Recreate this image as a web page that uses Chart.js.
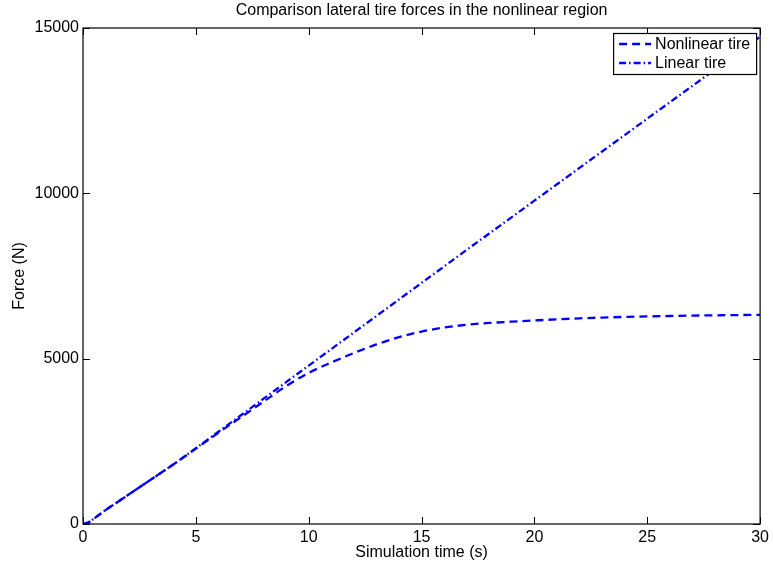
<!DOCTYPE html>
<html>
<head>
<meta charset="utf-8">
<script src="https://cdn.jsdelivr.net/npm/chart.js@4.4.1/dist/chart.umd.min.js"></script>
<style>
  html, body { margin: 0; padding: 0; background: #ffffff; }
  #wrap { width: 773px; height: 571px; }
</style>
</head>
<body>
<div id="wrap"><canvas id="c" width="773" height="571"></canvas></div>
<script>
// ---- data ----
const chartTitle = "Comparison lateral tire forces in the nonlinear region";
const xAxisTitle = "Simulation time (s)";
const yAxisTitle = "Force (N)";
const seriesNames = ["Nonlinear tire", "Linear tire"];

const timeS = [0, 0.25, 0.5, 1, 2, 3, 4, 5, 6, 7, 8, 9, 10, 11, 12, 13, 14, 15, 16, 17, 18, 19, 20, 21, 22, 23, 24, 25, 26, 27, 28, 29, 30];
const forceNonlinear = [0, 50, 170, 420, 880, 1340, 1800, 2280, 2760, 3230, 3700, 4170, 4570, 4885, 5170, 5430, 5650, 5820, 5940, 6025, 6080, 6120, 6156, 6190, 6220, 6243, 6262, 6278, 6291, 6302, 6311, 6318, 6325];
const forceLinear = [0, 50, 170, 420, 880, 1340, 1800, 2290, 2790, 3290, 3790, 4290, 4790, 5290, 5790, 6290, 6790, 7290, 7790, 8290, 8786, 9282, 9778, 10274, 10770, 11266, 11762, 12258, 12754, 13250, 13746, 14242, 14738];

const xTicks = [0, 5, 10, 15, 20, 25, 30];
const yTicks = [0, 5000, 10000, 15000];

// ---- styling ----
const FONT = "'Liberation Sans', Arial, Helvetica, sans-serif";
const FS = 16;
const BLUE = "#0000ff";
const DASHES = [[8, 5], [7, 3, 1.5, 3]];

function toPoints(xs, ys) { return xs.map((x, i) => ({ x: x, y: ys[i] })); }

const boxPlugin = {
  id: 'matlabBox',
  afterDraw(chart) {
    const ctx = chart.ctx;
    const a = chart.chartArea;
    const xs = chart.scales.x, ys = chart.scales.y;
    ctx.save();
    // title
    ctx.fillStyle = '#000';
    ctx.font = FS + 'px ' + FONT;
    ctx.textAlign = 'center';
    ctx.textBaseline = 'middle';
    ctx.fillText(chartTitle, (a.left + a.right) / 2, 11);
    // box
    ctx.strokeStyle = '#000';
    ctx.lineWidth = 1.2;
    ctx.setLineDash([]);
    ctx.strokeRect(a.left, a.top, a.right - a.left, a.bottom - a.top);
    // inward ticks
    const TL = 7;
    ctx.lineWidth = 1;
    ctx.beginPath();
    xTicks.forEach(v => {
      const px = Math.round(xs.getPixelForValue(v)) + 0.5;
      ctx.moveTo(px, a.bottom); ctx.lineTo(px, a.bottom - TL);
      ctx.moveTo(px, a.top); ctx.lineTo(px, a.top + TL);
    });
    yTicks.forEach(v => {
      const py = Math.round(ys.getPixelForValue(v)) + 0.5;
      ctx.moveTo(a.left, py); ctx.lineTo(a.left + TL, py);
      ctx.moveTo(a.right, py); ctx.lineTo(a.right - TL, py);
    });
    ctx.stroke();
    // legend
    const bw = 143, bh = 41;
    const bx = a.right - 4 - bw, by = a.top + 5;
    ctx.fillStyle = '#fff';
    ctx.fillRect(bx, by, bw, bh);
    ctx.strokeStyle = '#000';
    ctx.lineWidth = 1.2;
    ctx.strokeRect(bx + 0.5, by + 0.5, bw, bh);
    chart.data.datasets.forEach((ds, i) => {
      const cy = by + 11 + i * 19;
      ctx.strokeStyle = ds.borderColor;
      ctx.lineWidth = ds.borderWidth;
      ctx.setLineDash(ds.borderDash);
      ctx.beginPath();
      ctx.moveTo(bx + 6, cy); ctx.lineTo(bx + 38, cy);
      ctx.stroke();
      ctx.setLineDash([]);
      ctx.fillStyle = '#000';
      ctx.font = FS + 'px ' + FONT;
      ctx.textAlign = 'left';
      ctx.textBaseline = 'middle';
      ctx.fillText(ds.label, bx + 42, cy + 1);
    });
    ctx.restore();
  }
};

new Chart(document.getElementById('c'), {
  type: 'line',
  data: {
    datasets: [
      {
        label: seriesNames[0],
        data: toPoints(timeS, forceNonlinear),
        borderColor: BLUE, borderWidth: 2.3, borderDash: DASHES[0],
        pointRadius: 0, fill: false, cubicInterpolationMode: 'monotone'
      },
      {
        label: seriesNames[1],
        data: toPoints(timeS, forceLinear),
        borderColor: BLUE, borderWidth: 2.3, borderDash: DASHES[1],
        pointRadius: 0, fill: false, cubicInterpolationMode: 'monotone'
      }
    ]
  },
  options: {
    responsive: false,
    animation: false,
    devicePixelRatio: 1,
    layout: { padding: { top: 28, right: 11, left: 0, bottom: 0 } },
    plugins: { legend: { display: false }, title: { display: false }, tooltip: { enabled: false } },
    scales: {
      x: {
        type: 'linear', min: 0, max: 30,
        afterFit: s => { s.height = 47; },
        afterBuildTicks: s => { s.ticks = xTicks.map(v => ({ value: v })); },
        grid: { display: false, drawTicks: false },
        border: { display: false },
        ticks: { padding: 4, color: '#000', font: { family: FONT, size: FS }, maxRotation: 0 },
        title: { display: true, text: xAxisTitle, color: '#000', font: { family: FONT, size: FS }, padding: { top: 0, bottom: 9 } }
      },
      y: {
        type: 'linear', min: 0, max: 15000,
        afterFit: s => { s.width = 83; },
        afterBuildTicks: s => { s.ticks = yTicks.map(v => ({ value: v })); },
        grid: { display: false, drawTicks: false },
        border: { display: false },
        ticks: { padding: 4, color: '#000', font: { family: FONT, size: FS }, callback: v => String(v) },
        title: { display: true, text: yAxisTitle, color: '#000', font: { family: FONT, size: FS }, padding: { top: 10, bottom: 0 } }
      }
    }
  },
  plugins: [boxPlugin]
});
</script>
</body>
</html>
